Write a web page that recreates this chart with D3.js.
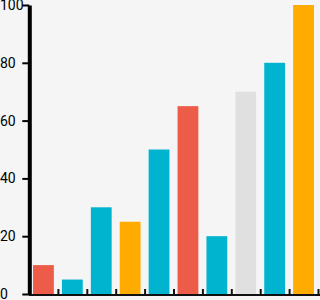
<!DOCTYPE html>
<html>
<head>
<meta charset="utf-8">
<script src="https://cdn.jsdelivr.net/npm/d3@7"></script>
<style>
html,body{margin:0;padding:0;background:#f5f5f5;}
svg{display:block;}
</style>
</head>
<body>
<svg id="chart" width="320" height="300"></svg>
<script>
const categories = ["A","B","C","D","E","F","G","H","I","J"];
const values = [10, 5, 30, 25, 50, 65, 20, 70, 80, 100];
const colorKeys = ["red","cyan","cyan","orange","cyan","red","cyan","gray","cyan","orange"];
const yTicks = [0, 20, 40, 60, 80, 100];

const palette = {red:"#ec5c48", cyan:"#00b4cf", orange:"#ffab00", gray:"#e0e0e0"};

const svg = d3.select("#chart");
svg.append("rect").attr("width",320).attr("height",300).attr("fill","#f5f5f5");

const y = d3.scaleLinear().domain([0,100]).range([294,5]);
const x = d3.scaleBand().domain(categories).range([29,318]).paddingInner(0.28).paddingOuter(0.14);
const xb = d3.scaleLinear().domain([0,categories.length]).range([29,318]);

// bars
svg.append("g").selectAll("rect").data(values).join("rect")
  .attr("x",(d,i)=>x(categories[i]))
  .attr("width",x.bandwidth())
  .attr("y",d=>y(d))
  .attr("height",d=>y(0)-y(d))
  .attr("fill",(d,i)=>palette[colorKeys[i]]);

// x axis
const gx = svg.append("g").attr("transform","translate(0,295)")
  .call(d3.axisBottom(xb).tickValues(d3.range(1,categories.length+1)).tickSize(-6).tickSizeOuter(0).tickFormat(""));
gx.select(".domain").attr("stroke","#111").attr("stroke-width",2).attr("d","M29,0H320");
gx.selectAll(".tick line").attr("stroke","#111").attr("stroke-width",2);

// y axis
const gy = svg.append("g").attr("transform","translate(29.3,0)")
  .call(d3.axisLeft(y).tickValues(yTicks).tickSize(7).tickSizeOuter(0).tickFormat(d3.format("d")));
gy.select(".domain").attr("stroke","#000").attr("stroke-width",4);
gy.selectAll(".tick line").attr("stroke","#000").attr("stroke-width",2);
gy.selectAll(".tick text")
  .attr("x",-29.3)
  .attr("text-anchor","start")
  .attr("fill","#000")
  .style("font-family","Roboto, sans-serif")
  .style("font-size","14px");
</script>
</body>
</html>
